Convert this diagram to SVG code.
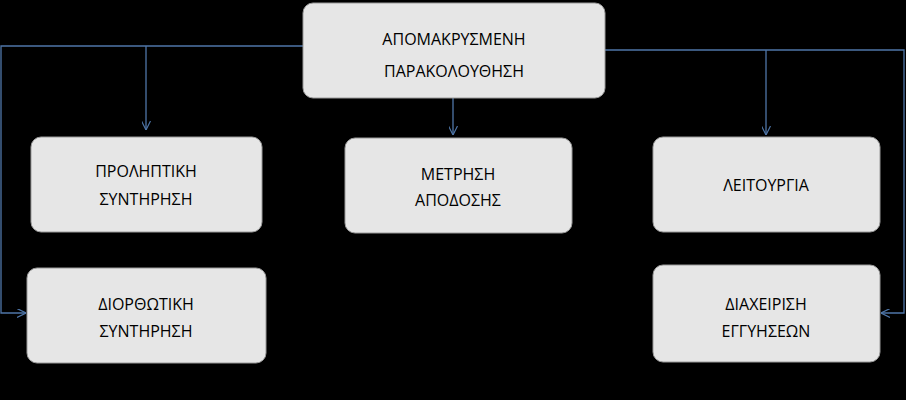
<svg xmlns="http://www.w3.org/2000/svg" width="906" height="400" viewBox="0 0 906 400">
<style>
.b{fill:#e6e6e6;stroke:#9a9a9a;stroke-width:1}
.t{font-family:"Open Sans","DejaVu Sans",sans-serif;font-size:16px;fill:#000;text-anchor:middle}
.c{fill:none;stroke:#4f76a8;stroke-width:1.3}
</style>
<defs><marker id="a" viewBox="0 0 10 10" refX="10" refY="5" markerWidth="9" markerHeight="9" orient="auto" markerUnits="userSpaceOnUse"><path d="M0,0L10,5L0,10" fill="none" stroke="#4f76a8" stroke-width="1.3"/></marker></defs>
<rect width="906" height="400" fill="#000"/>
<g id="connectors">
<path class="c" d="M303,46H1V313H26" marker-end="url(#a)"/>
<path class="c" d="M146,46V130" marker-end="url(#a)"/>
<path class="c" d="M453,98V135" marker-end="url(#a)"/>
<path class="c" d="M605,50H904V313H881" marker-end="url(#a)"/>
<path class="c" d="M766,50V135" marker-end="url(#a)"/>
</g>
<g id="n0"><rect class="b" x="303" y="3" width="302" height="95" rx="10"/><text class="t" x="454" y="45">ΑΠΟΜΑΚΡΥΣΜΕΝΗ</text><text class="t" x="454" y="77">ΠΑΡΑΚΟΛΟΥΘΗΣΗ</text></g>
<g id="n1"><rect class="b" x="31" y="137" width="231" height="95" rx="10"/><text class="t" x="146" y="177">ΠΡΟΛΗΠΤΙΚΗ</text><text class="t" x="146" y="205">ΣΥΝΤΗΡΗΣΗ</text></g>
<g id="n2"><rect class="b" x="345" y="138" width="227" height="95" rx="10"/><text class="t" x="458" y="180">ΜΕΤΡΗΣΗ</text><text class="t" x="458" y="206">ΑΠΟΔΟΣΗΣ</text></g>
<g id="n3"><rect class="b" x="653" y="137" width="227" height="95" rx="10"/><text class="t" x="766" y="191">ΛΕΙΤΟΥΡΓΙΑ</text></g>
<g id="n4"><rect class="b" x="27" y="268" width="239" height="95" rx="10"/><text class="t" x="146" y="310">ΔΙΟΡΘΩΤΙΚΗ</text><text class="t" x="146" y="337">ΣΥΝΤΗΡΗΣΗ</text></g>
<g id="n5"><rect class="b" x="653" y="265" width="227" height="97" rx="10"/><text class="t" x="766" y="310">ΔΙΑΧΕΙΡΙΣΗ</text><text class="t" x="766" y="337">ΕΓΓΥΗΣΕΩΝ</text></g>
</svg>
